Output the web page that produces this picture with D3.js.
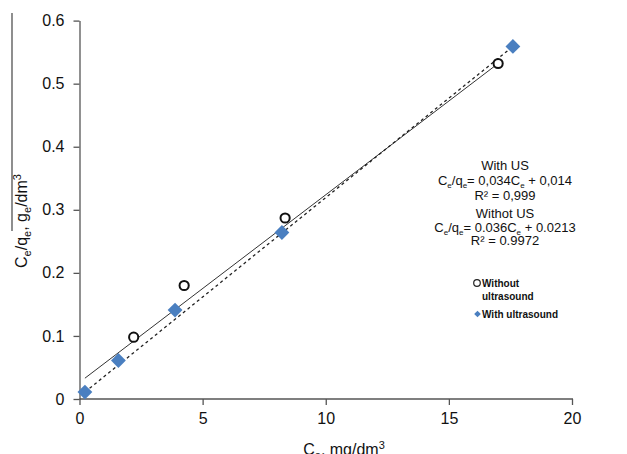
<!DOCTYPE html>
<html>
<head>
<meta charset="utf-8">
<script src="https://cdn.jsdelivr.net/npm/d3@7"></script>
<style>
  body { margin: 0; background: #fff; }
  svg { font-family: "Liberation Sans", Arial, sans-serif; }
</style>
</head>
<body>
<div id="chart"></div>
<script>
// readings from the picture
const withoutX = [2.2, 4.25, 8.35, 17.0]
const withoutY = [0.098, 0.180, 0.287, 0.532]
const withX = [0.22, 1.58, 3.88, 8.22, 17.6]
const withY = [0.011, 0.061, 0.141, 0.264, 0.559]
// trend lines, as drawn (start / end)
const trendWithoutX = [0.22, 17.0]
const trendWithoutY = [0.033, 0.532]
const trendWithX = [0.22, 17.6]
const trendWithY = [0.011, 0.559]
const xTicks = [0, 5, 10, 15, 20]
const yTicks = [0, 0.1, 0.2, 0.3, 0.4, 0.5, 0.6]

const width = 627, height = 454
const svg = d3.select('#chart').append('svg')
  .attr('width', width)
  .attr('height', height)

const x = d3.scaleLinear().domain([0, 20]).range([79.5, 572])
const y = d3.scaleLinear().domain([0, 0.6]).range([399, 20.6])
const axisColor = '#555'

// axes
const xAxis = svg.append('g')
  .attr('transform', `translate(0,${y(0)})`)
  .call(d3.axisBottom(x).tickValues(xTicks).tickFormat(d3.format('d')).tickSizeInner(6).tickSizeOuter(0).tickPadding(8))
const yAxis = svg.append('g')
  .attr('transform', `translate(${x(0)},0)`)
  .call(d3.axisLeft(y).tickValues(yTicks).tickFormat(d => d === 0 ? '0' : d3.format('.1f')(d)).tickSizeInner(6).tickSizeOuter(0).tickPadding(9))
;[xAxis, yAxis].forEach(a => {
  a.selectAll('path, line').attr('stroke', axisColor).attr('stroke-width', 1.3)
  a.selectAll('text').attr('fill', '#111').style('font-size', '16px')
})
xAxis.select('path').attr('d', `M${x(0)},0H${x(20) + 1}`)

// stray line at top left
svg.append('line')
  .attr('x1', 12).attr('x2', 12)
  .attr('y1', 13).attr('y2', 231)
  .attr('stroke', '#444').attr('stroke-width', 1.2)

// trend lines
const line = d3.line().x(d => x(d[0])).y(d => y(d[1]))
svg.append('path')
  .datum(d3.zip(trendWithoutX, trendWithoutY))
  .attr('d', line)
  .attr('fill', 'none').attr('stroke', '#333').attr('stroke-width', 1)
svg.append('path')
  .datum(d3.zip(trendWithX, trendWithY))
  .attr('d', line)
  .attr('fill', 'none').attr('stroke', '#222').attr('stroke-width', 1.3)
  .attr('stroke-dasharray', '3,3')

// markers
const diamond = d3.symbol().type(d3.symbolSquare).size(110)
svg.selectAll('path.with')
  .data(d3.zip(withX, withY))
  .join('path')
  .attr('class', 'with')
  .attr('d', diamond)
  .attr('transform', d => `translate(${x(d[0])},${y(d[1])}) rotate(45)`)
  .attr('fill', '#4a7fc0')
svg.selectAll('circle.without')
  .data(d3.zip(withoutX, withoutY))
  .join('circle')
  .attr('class', 'without')
  .attr('cx', d => x(d[0]))
  .attr('cy', d => y(d[1]))
  .attr('r', 4.6)
  .attr('fill', '#fff')
  .attr('stroke', '#111')
  .attr('stroke-width', 2)

// axis titles
const yTitle = svg.append('text')
  .attr('transform', 'translate(27,221) rotate(-90)')
  .attr('text-anchor', 'middle')
  .style('font-size', '16px').attr('fill', '#111')
yTitle.append('tspan').text('C')
yTitle.append('tspan').attr('dy', 4).style('font-size', '11px').text('e')
yTitle.append('tspan').attr('dy', -4).text('/q')
yTitle.append('tspan').attr('dy', 4).style('font-size', '11px').text('e')
yTitle.append('tspan').attr('dy', -4).text(', g')
yTitle.append('tspan').attr('dy', 4).style('font-size', '11px').text('e')
yTitle.append('tspan').attr('dy', -4).text('/dm')
yTitle.append('tspan').attr('dy', -6).style('font-size', '11px').text('3')

const xTitle = svg.append('text')
  .attr('x', 344).attr('y', 455)
  .attr('text-anchor', 'middle')
  .style('font-size', '16px').attr('fill', '#111')
xTitle.append('tspan').text('C')
xTitle.append('tspan').attr('dy', 4).style('font-size', '11px').text('e')
xTitle.append('tspan').attr('dy', -4).text(', mg/dm')
xTitle.append('tspan').attr('dy', -6).style('font-size', '11px').text('3')

// equations
const eq = svg.append('g').attr('fill', '#111').style('font-size', '13px').attr('text-anchor', 'middle')
function eqLine(yPos, parts) {
  const t = eq.append('text').attr('x', 505).attr('y', yPos)
  parts.forEach(p => {
    const s = t.append('tspan').text(p[0])
    if (p[1] === 'sub') s.attr('dy', 2.5).style('font-size', '8px')
    if (p[1] === 'up') s.attr('dy', -2.5)
  })
}
eqLine(170, [['With US']])
eqLine(185, [['C'], ['e', 'sub'], ['/q', 'up'], ['e', 'sub'], ['= 0,034C', 'up'], ['e', 'sub'], [' + 0,014', 'up']])
eqLine(200, [['R² = 0,999']])
eqLine(218, [['Withot US']])
eqLine(232, [['C'], ['e', 'sub'], ['/q', 'up'], ['e', 'sub'], ['= 0.036C', 'up'], ['e', 'sub'], [' + 0.0213', 'up']])
eqLine(245, [['R² = 0.9972']])

// legend
const legend = svg.append('g').style('font-size', '10px').style('font-weight', 'bold').attr('fill', '#111')
legend.append('circle')
  .attr('cx', 477).attr('cy', 283).attr('r', 3.3)
  .attr('fill', '#fff').attr('stroke', '#222').attr('stroke-width', 1.2)
legend.append('text').attr('x', 482).attr('y', 287).text('Without')
legend.append('text').attr('x', 482).attr('y', 300).text('ultrasound')
legend.append('path')
  .attr('d', d3.symbol().type(d3.symbolSquare).size(22))
  .attr('transform', 'translate(477.5,314) rotate(45)')
  .attr('fill', '#4a7fc0')
legend.append('text').attr('x', 482).attr('y', 318).text('With ultrasound')
</script>
</body>
</html>
